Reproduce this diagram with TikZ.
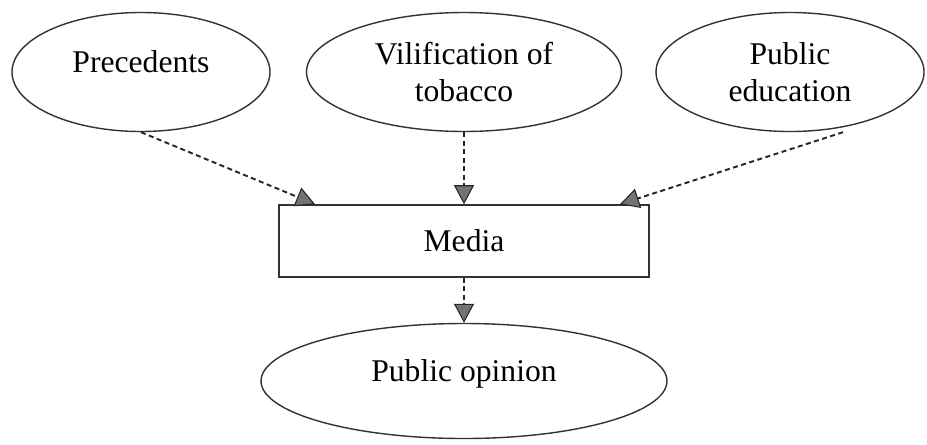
\documentclass[tikz,border=0pt]{standalone}
\usepackage{fontspec}
\setmainfont{Liberation Serif}
\usetikzlibrary{shapes.geometric,arrows.meta}

\begin{document}
\begin{tikzpicture}[
    font=\fontsize{18}{21}\selectfont,
    oval/.style={ellipse, draw=black!80, line width=0.8pt, inner sep=0pt, align=center},
    mediabox/.style={rectangle, draw=black!80, line width=0.9pt, minimum width=7.4cm, minimum height=1.44cm},
    link/.style={draw=black!85, line width=1.1pt, dash pattern=on 0.1cm off 0.07cm,
      -{Triangle[length=0.38cm, width=0.4cm, fill=black!55, line width=0.6pt]}}
  ]
          \useasboundingbox (0, 0) rectangle (18.54, -8.88);
          \node[oval, minimum width=5.16cm, minimum height=2.38cm, text depth=0.4cm] (PR) at (2.82, -1.44) {Precedents};
          \node[oval, minimum width=6.3cm, minimum height=2.38cm] (VT) at (9.28, -1.44) {Vilification of\\tobacco};
          \node[oval, minimum width=5.36cm, minimum height=2.38cm] (PE) at (15.8, -1.44) {Public\\education};
          \node[mediabox] (MD) at (9.28, -4.82) {Media};
          \node[oval, minimum width=8.12cm, minimum height=2.3cm, text depth=0.4cm] (PO) at (9.28, -7.62) {Public opinion};
          \draw [link] (PR.south) -- ([xshift=-2.98cm]MD.north);
          \draw [link] (VT.south) -- (MD.north);
          \draw [link] ([xshift=1.06cm]PE.south) -- ([xshift=3.12cm]MD.north);
          \draw [link] (MD.south) -- (PO.north);
  \end{tikzpicture}
\end{document}
